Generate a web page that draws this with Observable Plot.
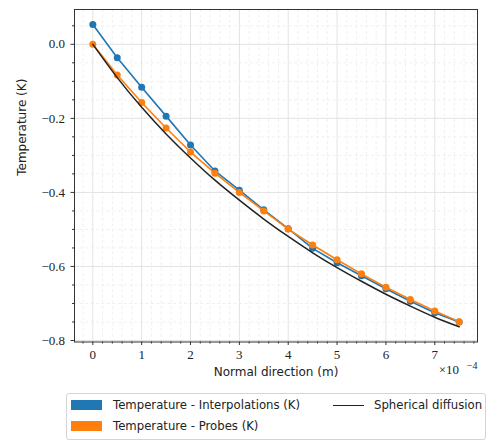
<!DOCTYPE html>
<html><head><meta charset="utf-8">
<script src="https://cdn.jsdelivr.net/npm/d3@7"></script>
<script src="https://cdn.jsdelivr.net/npm/@observablehq/plot@0.6"></script>
<style>
body{margin:0;background:#fff}
#wrap{position:relative;width:491px;height:441px}
#legend{position:absolute;left:66px;top:393px;width:420px;height:47px;border:1px solid #d4d4d4;border-radius:3px;box-sizing:border-box;font-family:"DejaVu Sans",sans-serif;font-size:11.7px;color:#222;background:#fff}
#legend .sw{position:absolute;width:31px;height:10px}
#legend .ln{position:absolute;width:31px;height:0;border-top:1.6px solid #222}
#legend .tx{position:absolute;white-space:nowrap;line-height:14px}
#chart g[aria-label$="tick label"] text,
#chart g[aria-label="offset"] text { font-family: "Liberation Serif", "DejaVu Serif", serif !important; }
#chart g[aria-label="axis title"] text { font-family: "DejaVu Sans", sans-serif !important; }
</style>
</head><body><div id="wrap"><div id="chart"></div><div id="legend"></div></div>
<script>
// x positions in units of 1e-4 m
const xPos = [0, 0.5, 1, 1.5, 2, 2.5, 3, 3.5, 4, 4.5, 5, 5.5, 6, 6.5, 7, 7.5];
const interpolations = [0.0535, -0.0365, -0.116, -0.194, -0.272, -0.342, -0.394, -0.447, -0.498, -0.551, -0.590, -0.625, -0.660, -0.694, -0.725, -0.750];
const probes = [0.0, -0.083, -0.157, -0.226, -0.291, -0.348, -0.400, -0.450, -0.499, -0.542, -0.582, -0.620, -0.656, -0.689, -0.720, -0.749];
const spherical = [0.0, -0.090, -0.170, -0.242, -0.307, -0.367, -0.421, -0.472, -0.519, -0.563, -0.603, -0.640, -0.675, -0.707, -0.737, -0.763];
const seriesNames = ["Temperature - Interpolations (K)", "Temperature - Probes (K)", "Spherical diffusion"];
const seriesColors = ["#1f77b4", "#ff7f0e", "#222222"];
const xTicks = [0, 1, 2, 3, 4, 5, 6, 7];
const xTickLabels = ["0", "1", "2", "3", "4", "5", "6", "7"];
const yTicks = [0, -0.2, -0.4, -0.6, -0.8];
const yTickLabels = ["0.0", "\u22120.2", "\u22120.4", "\u22120.6", "\u22120.8"];
const xLabel = "Normal direction (m)";
const yLabel = "Temperature (K)";
const xOffsetBase = "\u00d710";
const xOffsetExp = "\u22124";

const rows = xPos.map((x, i) => ({x, interp: interpolations[i], probe: probes[i], sph: spherical[i]}));
const xMinor = d3.range(-1, 40).map(i => +(i * 0.2).toFixed(2)).filter(v => Math.abs(v - Math.round(v)) > 1e-6);
const yMinor = d3.range(-16, 2).map(i => +(i * 0.05).toFixed(2)).filter(v => Math.abs(v * 5 - Math.round(v * 5)) > 1e-6);

const serif = "Liberation Serif, DejaVu Serif, serif";
const sans = "DejaVu Sans, sans-serif";

const chart = Plot.plot({
  width: 491, height: 390,
  marginLeft: 74, marginRight: 14, marginTop: 9, marginBottom: 48.5,
  x: {domain: [-0.375, 7.875]},
  y: {domain: [-0.804, 0.094]},
  style: {background: "#fff", overflow: "visible", fontSize: "13px", color: "#222"},
  marks: [
    Plot.ruleX(xMinor, {stroke: "#ececec", strokeDasharray: "3,2.5", strokeWidth: 0.8}),
    Plot.ruleY(yMinor, {stroke: "#ececec", strokeDasharray: "3,2.5", strokeWidth: 0.8}),
    Plot.ruleX(xTicks, {stroke: "#e3e3e3", strokeWidth: 1}),
    Plot.ruleY(yTicks, {stroke: "#e3e3e3", strokeWidth: 1}),
    Plot.line(rows, {x: "x", y: "interp", stroke: seriesColors[0], strokeWidth: 1.6}),
    Plot.dot(rows, {x: "x", y: "interp", fill: seriesColors[0], r: 3.5}),
    Plot.line(rows, {x: "x", y: "probe", stroke: seriesColors[1], strokeWidth: 1.6}),
    Plot.dot(rows, {x: "x", y: "probe", fill: seriesColors[1], r: 3.5}),
    Plot.line(rows, {x: "x", y: "sph", stroke: seriesColors[2], strokeWidth: 1.5, curve: "natural"}),
    Plot.frame({stroke: "#333", strokeWidth: 1}),
    Plot.axisX(xMinor, {tickSize: 2, tickFormat: () => "", label: null, stroke: "#333"}),
    Plot.axisY(yMinor, {tickSize: 2, tickFormat: () => "", label: null, stroke: "#333"}),
    Plot.axisX(xTicks, {tickSize: 3.5, tickPadding: 4, label: null, stroke: "#333",
      tickFormat: d => xTickLabels[xTicks.indexOf(d)], fontFamily: serif, fontSize: 13, fill: "#222"}),
    Plot.axisY(yTicks, {tickSize: 3.5, tickPadding: 6, label: null, stroke: "#333",
      tickFormat: d => yTickLabels[yTicks.indexOf(d)], fontFamily: serif, fontSize: 13, fill: "#222"}),
    Plot.text([yLabel], {frameAnchor: "left", dx: -52, rotate: -90, fontFamily: sans, fontSize: 12, fill: "#222", ariaLabel: "axis title"}),
    Plot.text([xLabel], {frameAnchor: "bottom", dy: 34, fontFamily: sans, fontSize: 12, fill: "#222", ariaLabel: "axis title"}),
    Plot.text([xOffsetBase], {frameAnchor: "bottom-right", textAnchor: "end", dx: -18.5, dy: 32, fontFamily: serif, fontSize: 13, fill: "#222", ariaLabel: "offset"}),
    Plot.text([xOffsetExp], {frameAnchor: "bottom-right", textAnchor: "end", dx: 0, dy: 27, fontFamily: serif, fontSize: 10, fill: "#222", ariaLabel: "offset"})
  ]
});
document.getElementById("chart").appendChild(chart);

const legend = document.getElementById("legend");
const items = [
  {cls: "sw", left: 4, top: 6, name: seriesNames[0], color: seriesColors[0], tl: 46, tt: 4},
  {cls: "sw", left: 4, top: 27, name: seriesNames[1], color: seriesColors[1], tl: 46, tt: 25},
  {cls: "ln", left: 266, top: 11, name: seriesNames[2], color: seriesColors[2], tl: 307, tt: 4}
];
for (const it of items) {
  const m = document.createElement("div");
  m.className = it.cls;
  m.style.left = it.left + "px"; m.style.top = it.top + "px";
  if (it.cls === "sw") m.style.background = it.color; else m.style.borderTopColor = it.color;
  legend.appendChild(m);
  const t = document.createElement("div");
  t.className = "tx"; t.textContent = it.name;
  t.style.left = it.tl + "px"; t.style.top = it.tt + "px";
  legend.appendChild(t);
}
</script></body></html>
